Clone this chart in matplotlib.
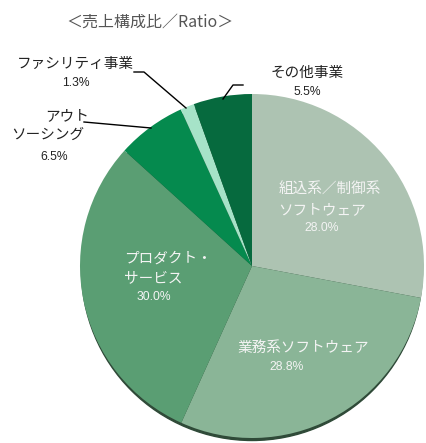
import matplotlib.pyplot as plt
from matplotlib.patches import Circle

plt.rcParams['font.family'] = ['Noto Sans CJK JP', 'DejaVu Sans']

segments = ["組込系／制御系\nソフトウェア", "業務系ソフトウェア", "プロダクト・\nサービス",
            "アウト\nソーシング", "ファシリティ事業", "その他事業"]
shares = [28.0, 28.8, 30.0, 6.5, 1.3, 5.5]
colors = ["#adc3b2", "#8ab597", "#5a9e73", "#058a4e", "#a6e3c8", "#066a3e"]
title = "＜売上構成比／Ratio＞"

W, H = 427, 443
CX, CY, R = 252, 443 - 266, 172

fig = plt.figure(figsize=(W / 100, H / 100), dpi=100)
ax = fig.add_axes([0, 0, 1, 1])

# shadow under the pie
ax.add_patch(Circle((CX, CY - 4), R - 1.5, color="#2f4a38", zorder=1))
ax.pie(shares, colors=colors, startangle=90, counterclock=False,
       center=(CX, CY), radius=R, frame=True,
       wedgeprops=dict(linewidth=0, zorder=2))
ax.set_xlim(0, W)
ax.set_ylim(0, H)
ax.set_aspect("equal")
ax.axis("off")


def py(y):
    return H - y


big, small = 10.5, 8.7
dark, light = "#222222", "#f4f4f4"
pct_font = ["Liberation Sans", "DejaVu Sans"]


def label(x, y, s, color, ha="center"):
    ax.text(x, py(y), s, ha=ha, va="center", fontsize=big, color=color)


def pct(x, y, v, color):
    ax.text(x, py(y), f"{v:.1f}%", ha="center", va="center", fontsize=small,
            color=color, family=pct_font)


ax.text(150, py(22), title, ha="center", va="center", fontsize=11.5, color="#555555")

# inside labels
l0 = segments[0].split("\n")
label(330, 190, l0[0], light)
label(322, 210, l0[1], light)
pct(322, 228, shares[0], light)
l2 = segments[2].split("\n")
label(124, 259, l2[0], light, ha="left")
label(124, 278, l2[1], light, ha="left")
pct(154, 297, shares[2], light)
label(303, 348, segments[1], light)
pct(287, 367, shares[1], light)

# outside labels
label(75, 64, segments[4], dark)
pct(76, 83, shares[4], dark)
label(307, 73, segments[5], dark)
pct(307, 92, shares[5], dark)
l3 = segments[3].split("\n")
label(67, 116, l3[0], dark)
label(48, 135, l3[1], dark)
pct(54, 157, shares[3], dark)

# leader lines
ax.plot([134, 144, 186], [py(72), py(72), py(108)], color="black", lw=1.0, zorder=3)
ax.plot([223, 233, 243], [py(99), py(85), py(85)], color="black", lw=1.0, zorder=3)
ax.plot([84, 151], [py(122), py(128)], color="black", lw=1.0, zorder=3)

fig.savefig("out.png", dpi=100)
